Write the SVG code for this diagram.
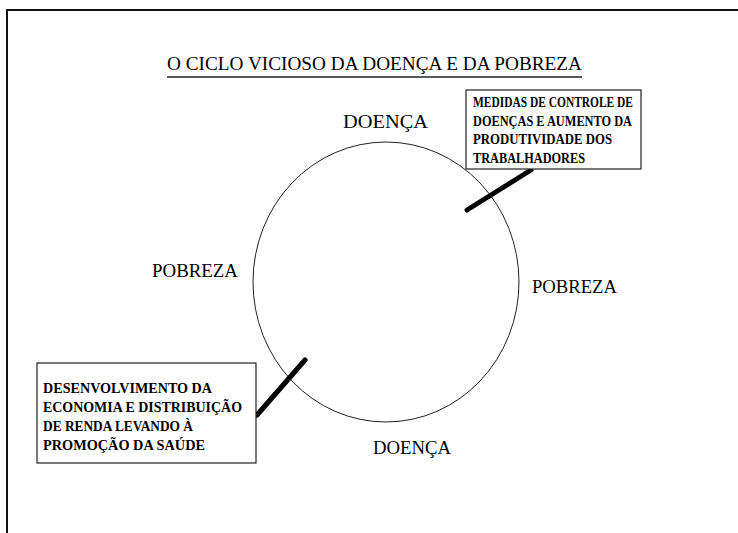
<svg xmlns="http://www.w3.org/2000/svg" width="738" height="533" viewBox="0 0 738 533">
<style>
text{font-family:"Liberation Serif",serif}
.lbl{font-size:19px;fill:#000}
.box{fill:#fff;stroke:#222;stroke-width:1.2}
.bt{font-size:14px;font-weight:bold;fill:#000}
.bar{stroke:#000;stroke-width:5;stroke-linecap:round}
</style>
<rect x="0" y="0" width="738" height="533" fill="#fff"/>
<rect id="frame" x="7" y="10" width="760" height="560" fill="none" stroke="#111" stroke-width="2"/>
<g id="title">
<text class="lbl" x="167" y="70" font-family="Liberation Serif" font-size="18" textLength="415" lengthAdjust="spacingAndGlyphs">O CICLO VICIOSO DA DOENÇA E DA POBREZA</text>
<line x1="167" y1="77" x2="582" y2="77" stroke="#222" stroke-width="1.3"/>
</g>
<g id="cycle">
<ellipse cx="386" cy="282" rx="133" ry="140" fill="none" stroke="#222" stroke-width="1"/>
</g>
<g id="doenca-top"><text class="lbl" x="343" y="128" font-family="Liberation Serif" textLength="85" lengthAdjust="spacingAndGlyphs">DOENÇA</text></g>
<g id="pobreza-left"><text class="lbl" x="152" y="277" font-family="Liberation Serif" textLength="86" lengthAdjust="spacingAndGlyphs">POBREZA</text></g>
<g id="pobreza-right"><text class="lbl" x="532" y="293" font-family="Liberation Serif" textLength="85" lengthAdjust="spacingAndGlyphs">POBREZA</text></g>
<g id="doenca-bottom"><text class="lbl" x="373" y="454" font-family="Liberation Serif" textLength="78" lengthAdjust="spacingAndGlyphs">DOENÇA</text></g>
<g id="connectors">
<line class="bar" x1="467" y1="210" x2="531" y2="170"/>
<line class="bar" x1="257" y1="415" x2="305" y2="360"/>
</g>
<g id="box-medidas" font-family="Liberation Serif">
<rect class="box" x="466" y="90" width="175" height="79"/>
<text class="bt" x="473" y="107" textLength="160" lengthAdjust="spacingAndGlyphs">MEDIDAS DE CONTROLE DE</text>
<text class="bt" x="473" y="125.5" textLength="159" lengthAdjust="spacingAndGlyphs">DOENÇAS E AUMENTO DA</text>
<text class="bt" x="473" y="144" textLength="139" lengthAdjust="spacingAndGlyphs">PRODUTIVIDADE DOS</text>
<text class="bt" x="473" y="162.5" textLength="112" lengthAdjust="spacingAndGlyphs">TRABALHADORES</text>
</g>
<g id="box-desenvolvimento" font-family="Liberation Serif">
<rect class="box" x="37" y="363" width="219" height="100"/>
<text class="bt" x="43" y="393" textLength="169" lengthAdjust="spacingAndGlyphs">DESENVOLVIMENTO DA</text>
<text class="bt" x="43" y="412" textLength="199" lengthAdjust="spacingAndGlyphs">ECONOMIA E DISTRIBUIÇÃO</text>
<text class="bt" x="43" y="431" textLength="150" lengthAdjust="spacingAndGlyphs">DE RENDA LEVANDO À</text>
<text class="bt" x="43" y="450" textLength="162" lengthAdjust="spacingAndGlyphs">PROMOÇÃO DA SAÚDE</text>
</g>
</svg>
